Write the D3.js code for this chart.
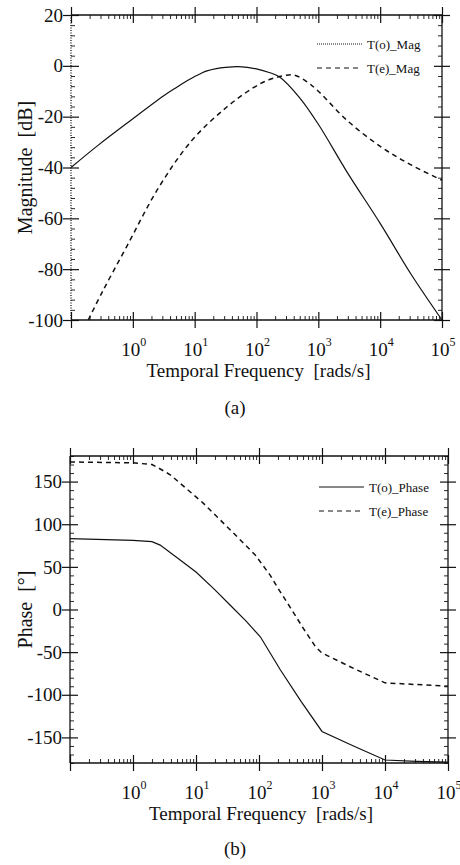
<!DOCTYPE html>
<html>
<head>
<meta charset="utf-8">
<script src="https://cdn.jsdelivr.net/npm/d3@7/dist/d3.min.js"></script>
<style>
  body { margin: 0; background: #fff; }
  svg { display: block; }
  text { font-family: "Liberation Serif", "DejaVu Serif", serif; fill: #111; white-space: pre; }
</style>
</head>
<body>
<svg width="460" height="865"></svg>
<script>
// frequencies in rads/s

// (a) magnitude
const magOFreq = [0.1, 0.27, 0.91, 3.16, 5, 7.9, 10, 12.6, 15.8, 22.4, 31.6, 50, 70.8, 100, 160, 234, 500, 1000, 2950, 10000, 31600, 100000];
const magOVal  = [-40, -31.4, -21.6, -11.8, -8.6, -5.6, -4.2, -3.0, -2.0, -1.1, -0.6, -0.3, -0.6, -1.2, -2.6, -4.3, -12.6, -23, -42, -62, -82, -100];

const magEFreq = [0.19, 0.32, 0.78, 2.6, 8.9, 32, 89, 158, 263, 398, 631, 1000, 2950, 10500, 31600, 100000];
const magEVal  = [-100, -89, -71.5, -48, -29.5, -16.5, -8.6, -5.5, -4, -3.6, -6, -10, -21.6, -32, -39, -45];

// (b) phase
const phOFreq = [0.1, 1, 2, 2.7, 5.6, 10, 20, 35, 63, 105, 219, 468, 1000, 3162, 10000, 31600, 100000];
const phOVal  = [83, 81, 79.5, 75.5, 58, 44, 23, 5, -14, -32, -71, -108, -143, -160, -176.5, -178, -179];

const phEFreq = [0.1, 1, 2, 2.4, 3.9, 12.9, 38.9, 87, 151, 200, 316, 501, 794, 1000, 3162, 10000, 31600, 100000];
const phEVal  = [173, 172, 170, 167, 158, 125, 90, 64, 40, 25, 2, -21.7, -44, -51, -69, -86, -88, -90];

const xMajor = [0.1, 1, 10, 100, 1000, 10000, 100000];
const xLabelExp = [0, 1, 2, 3, 4, 5];

const magTicks = [20, 0, -20, -40, -60, -80, -100];
const phTicks = [150, 100, 50, 0, -50, -100, -150];

const svg = d3.select('svg');

function drawPanel(p) {
    const x = d3.scaleLog().domain([0.1, 1e5]).range([p.left, p.right]);
    const y = d3.scaleLinear().domain(p.yDomain).range([p.bottom, p.top]);

    const g = svg.append('g').attr('id', p.id);

    // minor ticks on the log axis (2..9 in every decade)
    const xMinor = [];
    for (let d = 0.1; d < 1e5; d *= 10) {
        for (let k = 2; k <= 9; k++) xMinor.push(d * k);
    }
    const yMinor = d3.range(p.yDomain[0], p.yDomain[1] + 0.001, p.yMinorStep)
        .filter(v => p.yTicks.indexOf(v) < 0);

    const axes = [
        [d3.axisBottom(x), `translate(0,${p.bottom})`, 1],
        [d3.axisTop(x), `translate(0,${p.top})`, 1],
        [d3.axisLeft(y), `translate(${p.left},0)`, 0],
        [d3.axisRight(y), `translate(${p.right},0)`, 0]
    ];
    axes.forEach(([ax, tr, isX]) => {
        const major = isX ? xMajor : p.yTicks;
        const minor = isX ? xMinor : yMinor;
        [[major, 8], [major, -8], [minor, -4]].forEach(([vals, size]) => {
            g.append('g')
                .attr('transform', tr)
                .call(ax.tickValues(vals).tickSize(size).tickSizeOuter(0).tickFormat(''))
                .call(a => a.select('.domain').remove())
                .selectAll('line')
                .attr('stroke', '#111')
                .attr('stroke-width', size === -4 ? 0.9 : 1.2);
        });
    });

    // frame
    const frame = g.append('g').attr('stroke', '#111').attr('stroke-width', 1.3);
    frame.append('line').attr('x1', p.left).attr('x2', p.right).attr('y1', y.range()[0]).attr('y2', y.range()[0]);
    frame.append('line').attr('x1', p.left).attr('x2', p.right).attr('y1', y.range()[1]).attr('y2', y.range()[1]);
    frame.append('line').attr('x1', p.right).attr('x2', p.right).attr('y1', p.top).attr('y2', p.bottom);
    frame.append('line').attr('x1', p.left).attr('x2', p.left).attr('y1', p.top).attr('y2', p.bottom)
        .attr('stroke-dasharray', p.leftDotted ? '1,1.5' : null);

    // y tick labels
    g.append('g').selectAll('text')
        .data(p.yTicks)
        .join('text')
        .attr('x', p.left - 8)
        .attr('y', d => y(d))
        .attr('dy', '0.35em')
        .attr('text-anchor', 'end')
        .style('font-size', '19px')
        .text(d => d);

    // x tick labels 10^n
    const xl = g.append('g').selectAll('text')
        .data(xLabelExp)
        .join('text')
        .attr('x', d => x(Math.pow(10, d)) + 1)
        .attr('y', p.bottom + 36)
        .attr('text-anchor', 'middle')
        .style('font-size', '19px');
    xl.append('tspan').text('10');
    xl.append('tspan').attr('dy', -10).style('font-size', '12px').text(d => d);

    // axis titles
    g.append('text')
        .attr('xml:space', 'preserve')
        .attr('x', (p.left + p.right) / 2 + 2)
        .attr('y', p.bottom + 57)
        .attr('text-anchor', 'middle')
        .style('font-size', '19px')
        .text('Temporal Frequency  [rads/s]');
    g.append('text')
        .attr('xml:space', 'preserve')
        .attr('transform', `translate(32,${(p.top + p.bottom) / 2}) rotate(-90)`)
        .attr('text-anchor', 'middle')
        .style('font-size', '20px')
        .text(p.yLabel);
    g.append('text')
        .attr('x', 235)
        .attr('y', p.caption[1])
        .attr('text-anchor', 'middle')
        .style('font-size', '19px')
        .text(p.caption[0]);

    // curves
    const line = d3.line()
        .x(d => x(d[0]))
        .y(d => y(d[1]))
        .curve(p.curve);

    g.append('g').selectAll('path')
        .data(p.series)
        .join('path')
        .attr('d', s => line(d3.zip(s.freq, s.val)))
        .style('fill', 'none')
        .style('stroke', '#111')
        .style('stroke-width', s => s.dash ? 1.5 : 1.2)
        .style('stroke-dasharray', s => s.dash);

    // legend
    const lg = g.append('g').selectAll('g')
        .data(p.series)
        .join('g')
        .attr('transform', (s, i) => `translate(${p.legendX},${p.legendY + i * 24})`);
    lg.append('line')
        .attr('x1', 0).attr('x2', 45)
        .style('stroke', '#111')
        .style('stroke-width', 1)
        .style('stroke-dasharray', s => s.dash || s.legendDash);
    lg.append('text')
        .attr('x', 50)
        .attr('dy', '0.35em')
        .style('font-size', '13px')
        .text(s => s.name);
}

drawPanel({
    id: 'mag',
    left: 71, right: 442, top: 15, bottom: 320,
    yDomain: [-100, 20], yTicks: magTicks, yMinorStep: 4,
    leftDotted: true,
    curve: d3.curveCatmullRom.alpha(0.5),
    yLabel: 'Magnitude  [dB]',
    caption: ['(a)', 414],
    legendX: 317, legendY: 44,
    series: [
        { name: 'T(o)_Mag', freq: magOFreq, val: magOVal, dash: null, legendDash: '1,1' },
        { name: 'T(e)_Mag', freq: magEFreq, val: magEVal, dash: '5,4' }
    ]
});

drawPanel({
    id: 'phase',
    left: 70, right: 448, top: 456, bottom: 763,
    yDomain: [-180, 180], yTicks: phTicks, yMinorStep: 10,
    leftDotted: false,
    curve: d3.curveLinear,
    yLabel: 'Phase  [°]',
    caption: ['(b)', 855],
    legendX: 319, legendY: 487,
    series: [
        { name: 'T(o)_Phase', freq: phOFreq, val: phOVal, dash: null },
        { name: 'T(e)_Phase', freq: phEFreq, val: phEVal, dash: '5,4' }
    ]
});
</script>
</body>
</html>
